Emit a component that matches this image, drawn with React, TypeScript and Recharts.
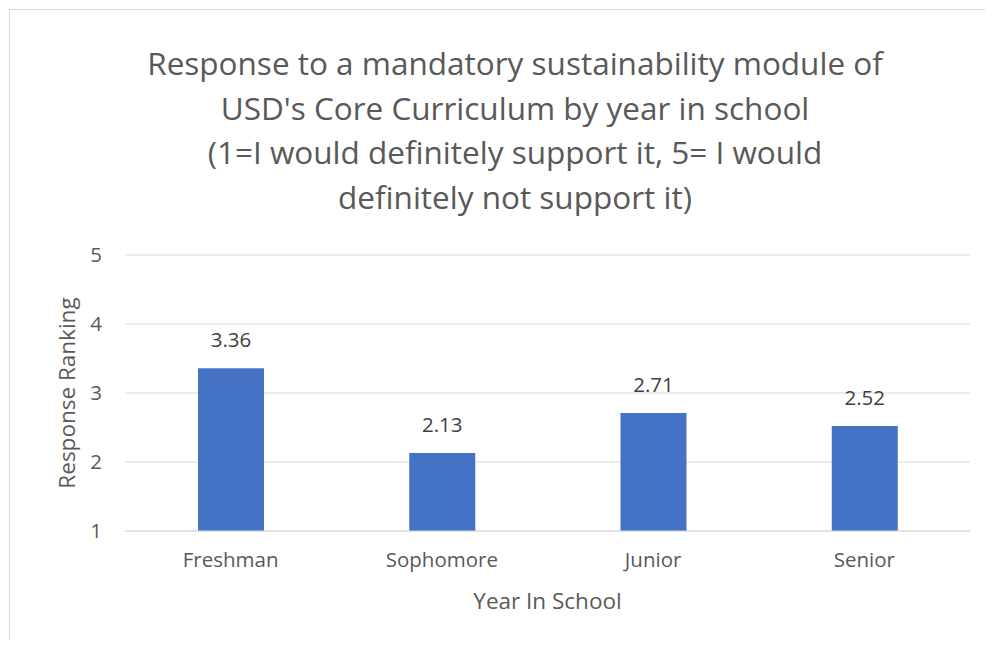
import { Bar, BarChart, CartesianGrid, LabelList, XAxis, YAxis } from "recharts";

const years = ["Freshman", "Sophomore", "Junior", "Senior"];
const rankings = [3.36, 2.13, 2.71, 2.52];
const yTicks = [1, 2, 3, 4, 5];
const titleLines = [
  "Response to a mandatory sustainability module of",
  "USD's Core Curriculum by year in school",
  "(1=I would definitely support it, 5= I would",
  "definitely not support it)",
];

const data = years.map((year, i) => ({ year, ranking: rankings[i] }));

const FONT = "'Open Sans', sans-serif";
const TEXT = "#595959";
const GRID = "#d9d9d9";

function YLabel({ viewBox }: any) {
  const cy = viewBox.y + viewBox.height / 2;
  const cx = viewBox.x + 58;
  return (
    <text
      x={cx}
      y={cy}
      transform={`rotate(-90 ${cx} ${cy})`}
      textAnchor="middle"
      dominantBaseline="central"
      fill={TEXT}
      fontSize={22.5}
      fontFamily={FONT}
    >
      Response Ranking
    </text>
  );
}

export default function App() {
  return (
    <div
      style={{
        position: "relative",
        width: 977,
        height: 632,
        fontFamily: FONT,
      }}
    >
      <div
        style={{
          position: "absolute",
          left: 1,
          top: 1,
          right: -20,
          bottom: -20,
          borderTop: `1px solid ${GRID}`,
          borderLeft: `1px solid ${GRID}`,
        }}
      />
      <div
        style={{
          position: "absolute",
          left: 0,
          top: 33,
          width: 1014,
          textAlign: "center",
          fontSize: 31.5,
          lineHeight: "44.5px",
          color: TEXT,
        }}
      >
        {titleLines.map((line) => (
          <div key={line}>{line}</div>
        ))}
      </div>
      <BarChart
        width={977}
        height={632}
        data={data}
        margin={{ top: 247, right: 15, left: 0, bottom: 29 }}
        barSize={66}
      >
        <CartesianGrid stroke={GRID} vertical={false} />
        <XAxis
          dataKey="year"
          height={80}
          tickSize={0}
          tickMargin={21}
          axisLine={{ stroke: GRID }}
          tickLine={false}
          tick={{ fontSize: 20.5, fill: TEXT, fontFamily: FONT }}
          label={{
            value: "Year In School",
            position: "insideBottom",
            offset: 2,
            fontSize: 22.5,
            fill: TEXT,
            fontFamily: FONT,
          }}
        />
        <YAxis
          width={117}
          domain={[1, 5]}
          ticks={yTicks}
          tickSize={0}
          tickMargin={23}
          axisLine={false}
          tickLine={false}
          tick={{ fontSize: 20.5, fill: TEXT, fontFamily: FONT }}
          label={<YLabel />}
        />
        <Bar dataKey="ranking" fill="#4472C4" isAnimationActive={false}>
          <LabelList
            dataKey="ranking"
            position="top"
            offset={21}
            fill="#404040"
            fontSize={20.5}
            fontFamily={FONT}
          />
        </Bar>
      </BarChart>
    </div>
  );
}
